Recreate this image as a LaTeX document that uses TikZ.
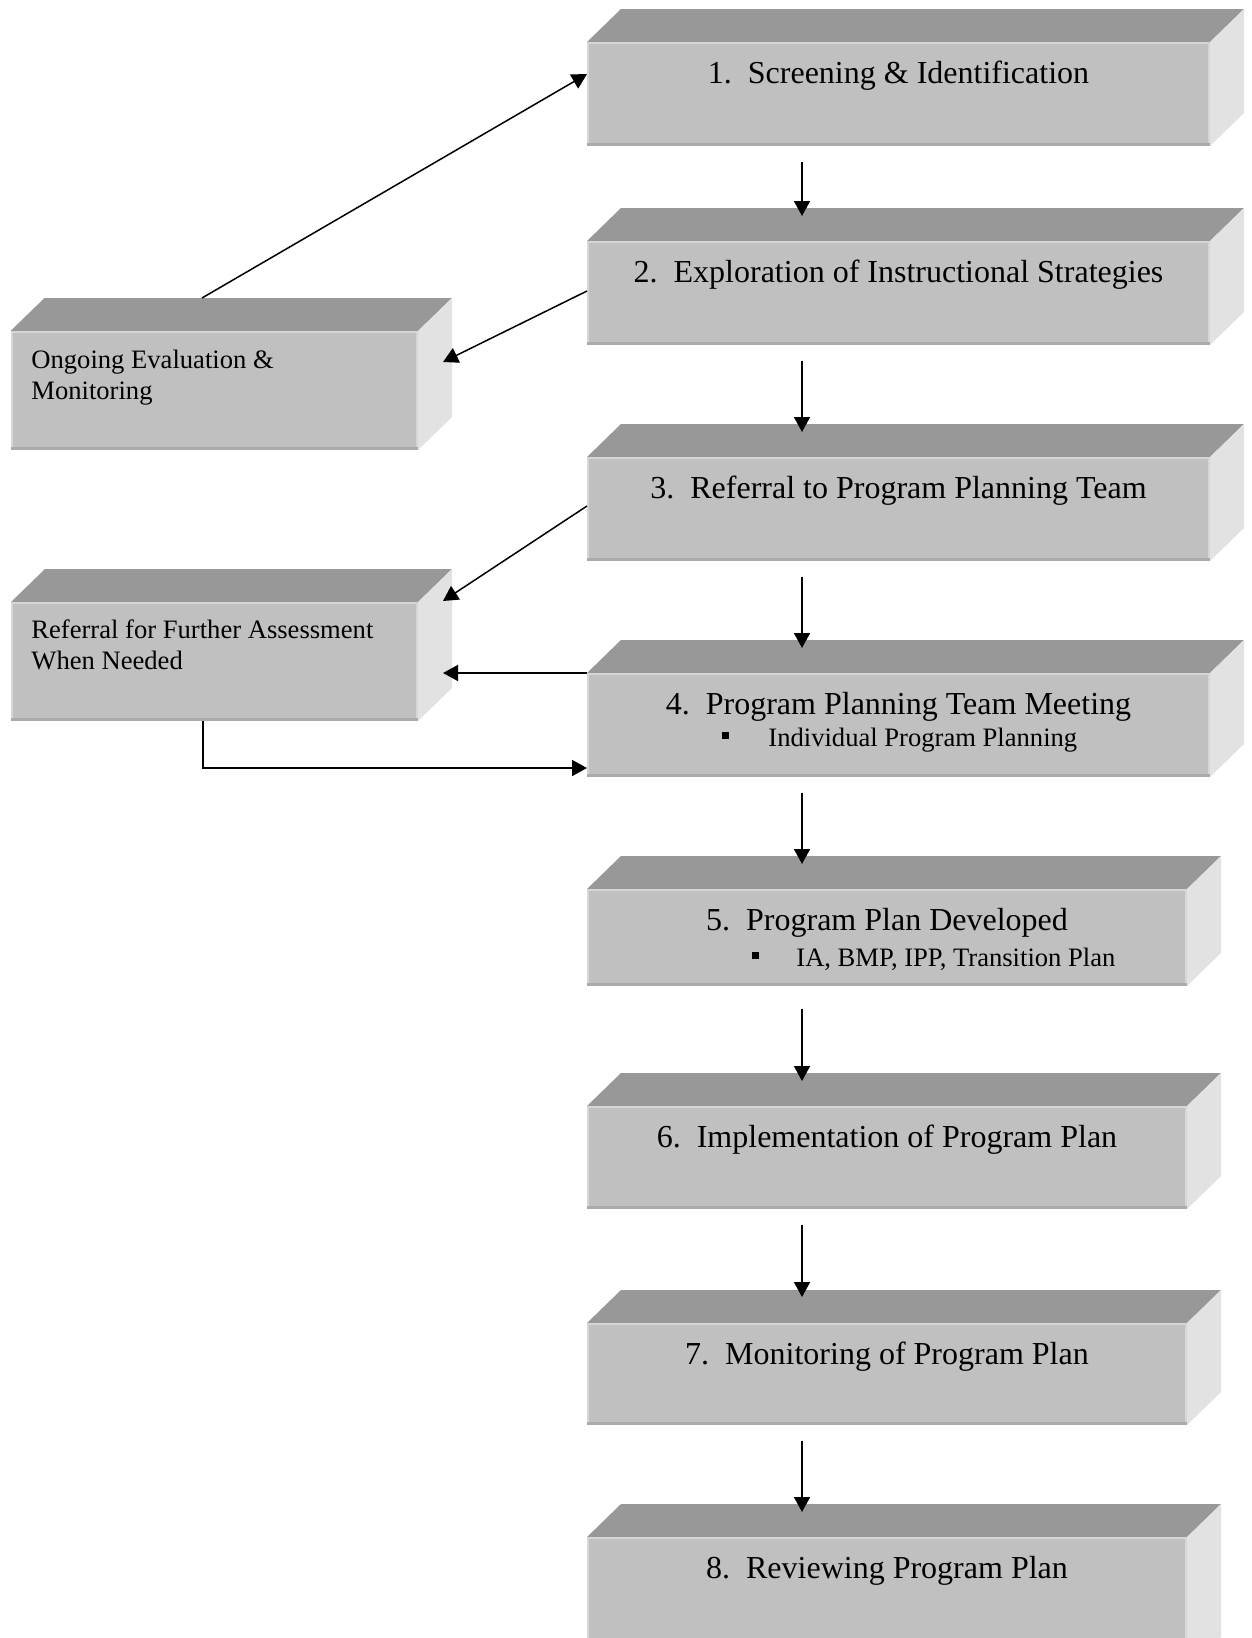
\documentclass[tikz,border=0pt]{standalone}
\usepackage{fontspec}
\setmainfont{Liberation Serif}
\usetikzlibrary{arrows.meta,calc,fit}
\definecolor{topgray}{gray}{0.596}
\definecolor{frontgray}{gray}{0.753}
\definecolor{sidegray}{gray}{0.886}
\definecolor{edgelight}{gray}{0.84}
\definecolor{edgedark}{gray}{0.67}
\newcommand{\slabbox}[5]{%
  \fill[topgray] (#2,#3) -- (#2+34,#3-33) -- (#4+34,#3-33) -- (#4,#3) -- cycle;
  \fill[sidegray] (#4,#3) -- (#4+34,#3-33) -- (#4+34,#5-33) -- (#4,#5) -- cycle;
  \fill[frontgray] (#2,#3) rectangle (#4,#5);
  \fill[edgelight] (#2,#3) rectangle (#2+2,#5);
  \fill[edgelight] (#4-2,#3) rectangle (#4,#5);
  \fill[edgelight] (#2,#3) rectangle (#4,#3+1.5);
  \fill[edgedark] (#2,#5-3) rectangle (#4,#5);
  \node[fit={(#2,#3) (#4,#5)}, inner sep=0pt, outer sep=0pt] (#1) {};
}
\tikzset{
  bigtxt/.style={font=\fontsize{16pt}{19pt}\selectfont, inner sep=0pt, anchor=base},
  smalltxt/.style={font=\fontsize{13.3pt}{15.5pt}\selectfont, inner sep=0pt, anchor=base west},
  arr/.style={line width=0.75pt, -{Triangle[length=7.5pt,width=8pt]}}
}
\newcommand{\sqbullet}{\rule[3.5pt]{3.5pt}{3.5pt}}
\begin{document}
\begin{tikzpicture}[x=0.5pt,y=-0.5pt]
\clip (0,0) rectangle (1252,1638);
\fill[white] (0,0) rectangle (1252,1638);

% main boxes
\slabbox{b1}{587}{42}{1210}{146}
\slabbox{b2}{587}{241}{1210}{345}
\slabbox{b3}{587}{457}{1210}{561}
\slabbox{b4}{587}{673}{1210}{777}
\slabbox{b5}{587}{889}{1187}{986}
\slabbox{b6}{587}{1106}{1187}{1209}
\slabbox{b7}{587}{1323}{1187}{1425}
\slabbox{b8}{587}{1537}{1187}{1670}
% side boxes
\slabbox{o}{10.5}{331}{418}{450}
\slabbox{r}{11}{602}{418}{721}

% texts
\node[bigtxt] (t1) at ($(b1.north)+(0,41)$) {1.\hspace{0.5em}Screening \& Identification};
\node[bigtxt] (t2) at ($(b2.north)+(0,41)$) {2.\hspace{0.5em}Exploration of Instructional Strategies};
\node[bigtxt] (t3) at ($(b3.north)+(0,41)$) {3.\hspace{0.5em}Referral to Program Planning Team};
\node[bigtxt] (t4) at ($(b4.north)+(0,41)$) {4.\hspace{0.5em}Program Planning Team Meeting};
\node[smalltxt] (t4b) at (722,746) {\sqbullet\hspace{19.5pt}Individual Program Planning};
\node[bigtxt] (t5) at ($(b5.north)+(0,41)$) {5.\hspace{0.5em}Program Plan Developed};
\node[smalltxt] (t5b) at (752,966) {\sqbullet\hspace{18.5pt}IA, BMP, IPP, Transition Plan};
\node[bigtxt] (t6) at ($(b6.north)+(0,41)$) {6.\hspace{0.5em}Implementation of Program Plan};
\node[bigtxt] (t7) at ($(b7.north)+(0,41)$) {7.\hspace{0.5em}Monitoring of Program Plan};
\node[bigtxt] (t8) at ($(b8.north)+(0,41)$) {8.\hspace{0.5em}Reviewing Program Plan};
\node[smalltxt] (to1) at ($(o.north west)+(20.5,37)$) {Ongoing Evaluation \&};
\node[smalltxt] (to2) at ($(o.north west)+(20.5,68)$) {Monitoring};
\node[smalltxt] (tr1) at ($(r.north west)+(20,36)$) {Referral for Further Assessment};
\node[smalltxt] (tr2) at ($(r.north west)+(20,67)$) {When Needed};

% vertical arrows
\draw[arr] ($(b1.south west)+(215,16)$) -- ($(b2.north west)+(215,-25)$);
\draw[arr] ($(b2.south west)+(215,16)$) -- ($(b3.north west)+(215,-25)$);
\draw[arr] ($(b3.south west)+(215,16)$) -- ($(b4.north west)+(215,-25)$);
\draw[arr] ($(b4.south west)+(215,16)$) -- ($(b5.north west)+(215,-25)$);
\draw[arr] ($(b5.south west)+(215,23)$) -- ($(b6.north west)+(215,-25)$);
\draw[arr] ($(b6.south west)+(215,16)$) -- ($(b7.north west)+(215,-26)$);
\draw[arr] ($(b7.south west)+(215,16)$) -- ($(b8.north west)+(215,-25)$);

% side connectors
\draw[arr] ($(o.north west)+(191.5,-33)$) -- ($(b1.north west)+(0,32)$);
\draw[arr] ($(b2.north west)+(0,50)$) -- ($(o.north east)+(25,31)$);
\draw[arr] ($(b3.north west)+(0,49)$) -- ($(r.north east)+(25,-1)$);
\draw[arr] (b4.north west) -- ($(b4.north west)+(-144,0)$);
\draw[arr] ($(r.south west)+(192,0)$) |- ($(b4.south west)+(0,-9)$);
\end{tikzpicture}
\end{document}
